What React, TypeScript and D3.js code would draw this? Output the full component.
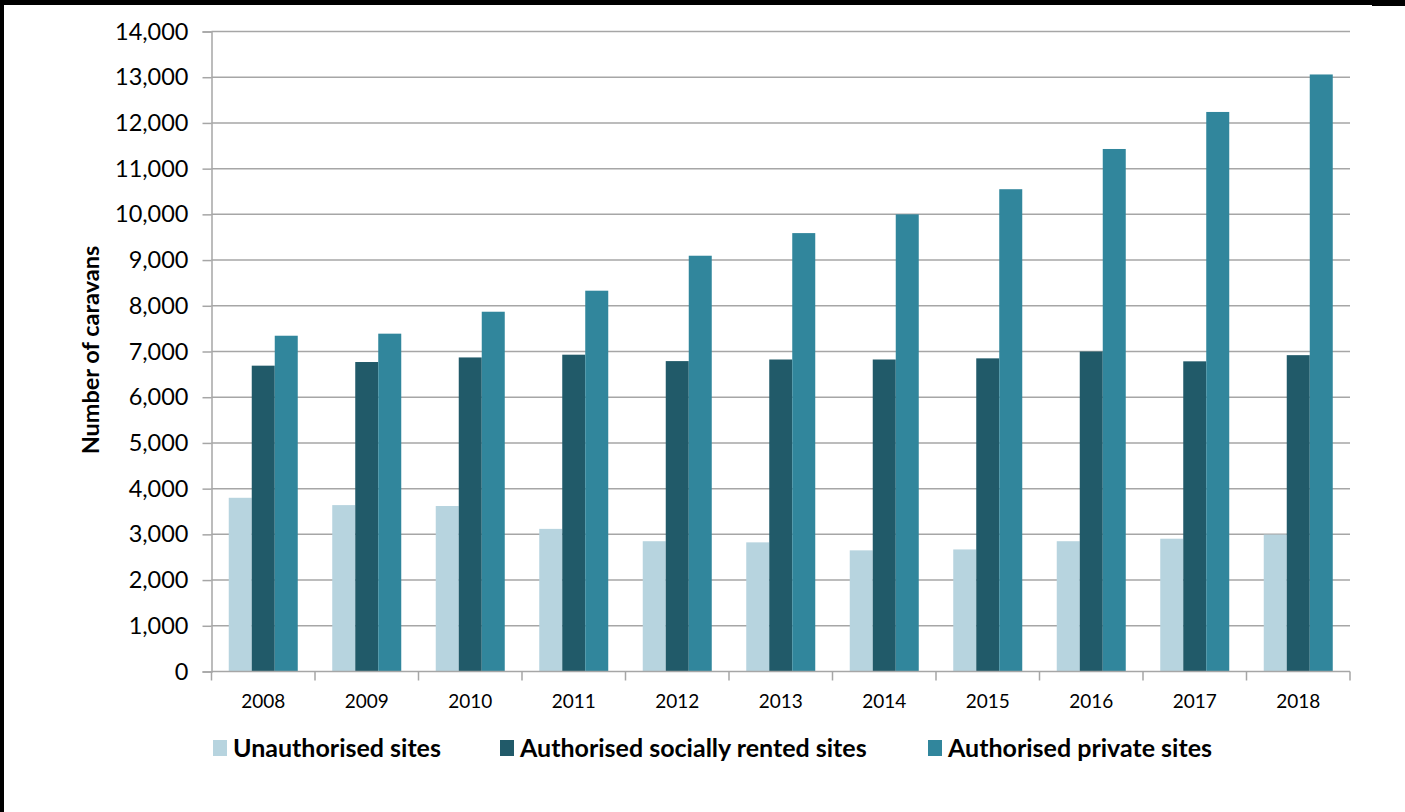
import React, { useEffect, useRef } from 'react';
import * as d3 from 'd3';

const years = ['2008', '2009', '2010', '2011', '2012', '2013', '2014', '2015', '2016', '2017', '2018'];
const seriesNames = ['Unauthorised sites', 'Authorised socially rented sites', 'Authorised private sites'];
const unauthorised = [3800, 3640, 3620, 3120, 2850, 2825, 2650, 2670, 2850, 2905, 2995];
const sociallyRented = [6690, 6770, 6870, 6930, 6790, 6825, 6825, 6850, 7000, 6785, 6920];
const privateSites = [7345, 7390, 7870, 8330, 9095, 9590, 10000, 10550, 11430, 12240, 13060];
const yTicks = [0, 1000, 2000, 3000, 4000, 5000, 6000, 7000, 8000, 9000, 10000, 11000, 12000, 13000, 14000];
const colors = ['#b7d4df', '#215a69', '#31869c'];

const W = 1405;
const H = 812;

const App: React.FC = () => {
    const ref = useRef<SVGSVGElement>(null);

    useEffect(() => {
        document.body.style.margin = '0';
        const svg = d3.select(ref.current);
        svg.selectAll('*').remove();

        const left = 211.5;
        const right = 1350;
        const top = 31.5;
        const bottom = 671.5;

        const x0 = d3.scaleBand<string>().domain(years).range([left, right]);
        const groupPad = x0.bandwidth() * 0.75 / 4.5;
        const x1 = d3.scaleBand<number>()
            .domain([0, 1, 2])
            .range([groupPad, x0.bandwidth() - groupPad]);
        const y = d3.scaleLinear().domain([0, 14000]).range([bottom, top]);

        // border
        svg.append('rect').attr('x', 0).attr('y', 0).attr('width', 1372).attr('height', 5).attr('fill', 'black');
        svg.append('rect').attr('x', 1372).attr('y', 0).attr('width', 33).attr('height', 6).attr('fill', 'black');
        svg.append('rect').attr('x', 0).attr('y', 0).attr('width', 4).attr('height', H).attr('fill', 'black');

        // gridlines
        svg.append('g')
            .selectAll('line')
            .data(yTicks.filter(d => d > 0))
            .enter()
            .append('line')
            .attr('x1', left)
            .attr('x2', right)
            .attr('y1', d => y(d))
            .attr('y2', d => y(d))
            .attr('stroke', '#a6a6a6')
            .attr('stroke-width', 1.5);

        // y axis
        const yAxis = svg.append('g')
            .attr('transform', `translate(${left},0)`)
            .call(d3.axisLeft(y).tickValues(yTicks).tickSize(9).tickPadding(14).tickFormat(d3.format(',')));
        yAxis.select('.domain').attr('stroke', '#a6a6a6').attr('stroke-width', 1.5);
        yAxis.selectAll('.tick line').attr('stroke', '#a6a6a6').attr('stroke-width', 1.5);
        yAxis.selectAll('.tick text')
            .attr('fill', '#000')
            .style('font-family', 'Lato, sans-serif')
            .style('font-size', '23.5px');

        // bars
        const series = [unauthorised, sociallyRented, privateSites];
        series.forEach((vals, si) => {
            svg.append('g')
                .selectAll('rect')
                .data(vals)
                .enter()
                .append('rect')
                .attr('x', (d, i) => (x0(years[i]) as number) + (x1(si) as number))
                .attr('width', x1.bandwidth())
                .attr('y', d => y(d))
                .attr('height', d => bottom - y(d))
                .attr('fill', colors[si]);
        });

        // x axis
        svg.append('line')
            .attr('x1', left).attr('x2', right)
            .attr('y1', bottom).attr('y2', bottom)
            .attr('stroke', '#a6a6a6').attr('stroke-width', 1.5);
        svg.append('g')
            .selectAll('line')
            .data(years.map(d => x0(d) as number).concat([right]))
            .enter()
            .append('line')
            .attr('x1', d => d).attr('x2', d => d)
            .attr('y1', bottom).attr('y2', bottom + 9)
            .attr('stroke', '#a6a6a6').attr('stroke-width', 1.5);
        svg.append('g')
            .selectAll('text')
            .data(years)
            .enter()
            .append('text')
            .attr('x', d => (x0(d) as number) + x0.bandwidth() / 2)
            .attr('y', 708)
            .attr('text-anchor', 'middle')
            .style('font-family', 'Lato, sans-serif')
            .style('font-size', '19px')
            .text(d => d);

        // y title
        svg.append('text')
            .attr('transform', `translate(99,${(240 + 460) / 2}) rotate(-90)`)
            .attr('text-anchor', 'middle')
            .style('font-family', 'Lato, sans-serif')
            .style('font-size', '23.5px')
            .style('font-weight', 'bold')
            .text('Number of caravans');

        // legend
        const legendX = [213, 500, 928];
        const legend = svg.append('g')
            .selectAll('g')
            .data(seriesNames)
            .enter()
            .append('g')
            .attr('transform', (d, i) => `translate(${legendX[i]},740)`);
        legend.append('rect')
            .attr('width', 14).attr('height', 16)
            .attr('fill', (d, i) => colors[i]);
        legend.append('text')
            .attr('x', 20).attr('y', 17)
            .style('font-family', 'Lato, sans-serif')
            .style('font-size', '25px')
            .style('font-weight', 'bold')
            .text(d => d);
    }, []);

    return (
        <svg ref={ref} width={W} height={H} style={{ display: 'block', background: 'white' }} />
    );
};

export default App;
